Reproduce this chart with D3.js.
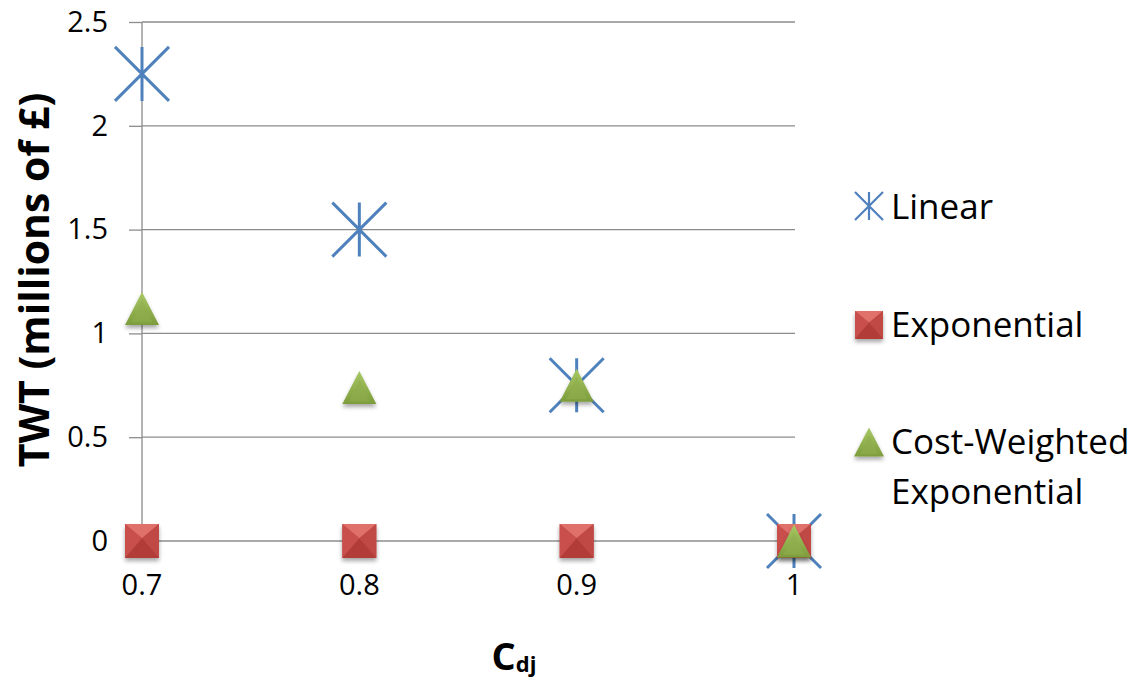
<!DOCTYPE html>
<html><head><meta charset="utf-8">
<script src="https://cdn.jsdelivr.net/npm/d3@7"></script>
<style>body{margin:0;background:#fff}svg{display:block}text{font-family:"Open Sans",Lato,sans-serif}</style>
</head><body>
<svg id="c" width="1143" height="682"></svg>
<script>
const xValues = [0.7, 0.8, 0.9, 1];
const xTickLabels = ["0.7", "0.8", "0.9", "1"];
const yTicks = [0, 0.5, 1, 1.5, 2, 2.5];
const yTickLabels = ["0", "0.5", "1", "1.5", "2", "2.5"];
const linear = [2.25, 1.5, 0.75, 0];
const exponential = [0, 0, 0, 0];
const costWeighted = [1.12, 0.74, 0.75, 0];
const seriesNames = ["Linear", "Exponential", "Cost-Weighted|Exponential"];

const svg = d3.select("#c");
const x = d3.scaleLinear().domain([0.7, 1]).range([142, 794]);
const y = d3.scaleLinear().domain([0, 2.5]).range([541, 22]);

const defs = svg.append("defs");
const sh = defs.append("filter").attr("id","sh").attr("x","-30%").attr("y","-30%").attr("width","160%").attr("height","170%");
sh.append("feGaussianBlur").attr("in","SourceAlpha").attr("stdDeviation",2.2);
sh.append("feOffset").attr("dy",3).attr("result","b");
sh.append("feComponentTransfer").append("feFuncA").attr("type","linear").attr("slope",0.35);
const mg = sh.append("feMerge"); mg.append("feMergeNode"); mg.append("feMergeNode").attr("in","SourceGraphic");
const tg = defs.append("linearGradient").attr("id","tg").attr("x1",0).attr("y1",0).attr("x2",0).attr("y2",1);
tg.append("stop").attr("offset","0").attr("stop-color","#a8c864");
tg.append("stop").attr("offset","1").attr("stop-color","#7d9c3c");

// gridlines
svg.append("g").selectAll("line").data(yTicks).join("line")
  .attr("x1", x(0.7)).attr("x2", 795).attr("y1", d => y(d)).attr("y2", d => y(d))
  .attr("stroke", "#8c8c8c").attr("stroke-width", 1.3);
// y axis
const ax = d3.axisLeft(y).tickValues(yTicks).tickSize(13).tickFormat((d,i)=>yTickLabels[i]).tickPadding(21);
const ag = svg.append("g").attr("transform", `translate(${x(0.7)},0)`).call(ax);
ag.select(".domain").attr("stroke","#8c8c8c").attr("stroke-width",1.3).attr("d",`M0,${y(2.5)}V${y(0)}`);
ag.selectAll(".tick line").attr("stroke","#8c8c8c").attr("stroke-width",1.3);
ag.selectAll(".tick text").attr("font-size",29).attr("fill","#000").attr("font-family","Open Sans");
// x labels
svg.append("g").selectAll("text").data(xValues).join("text")
  .attr("x", d => x(d)).attr("y", 595).attr("text-anchor","middle")
  .attr("font-size",29).text((d,i)=>xTickLabels[i]);

// marker drawers
function star(g, cx, cy, r, sw) {
  g.append("path").attr("d",`M${cx},${cy-r}V${cy+r}M${cx-r},${cy-r}L${cx+r},${cy+r}M${cx-r},${cy+r}L${cx+r},${cy-r}`)
   .attr("stroke","#4f81bd").attr("stroke-width",sw).attr("fill","none");
}
function square(g, cx, cy, s) {
  const h = s/2, gg = g.append("g").attr("filter","url(#sh)");
  const L=cx-h,R=cx+h,T=cy-h,B=cy+h, iy=s*0.08;
  gg.append("rect").attr("x",L).attr("y",T).attr("width",s).attr("height",s).attr("fill","#c0504d");
  gg.append("path").attr("d",`M${L},${T}L${R},${T}L${cx},${cy-iy}Z`).attr("fill","#e0706a");
  gg.append("path").attr("d",`M${L},${T}L${cx},${cy-iy}L${L},${B}Z`).attr("fill","#c8504c");
  gg.append("path").attr("d",`M${R},${T}L${cx},${cy-iy}L${R},${B}Z`).attr("fill","#c04844");
  gg.append("path").attr("d",`M${L},${B}L${cx},${cy-iy}L${R},${B}Z`).attr("fill","#b23c38");
}
function tri(g, cx, cy, w, hgt) {
  const gg = g.append("g").attr("filter","url(#sh)");
  const T=cy-hgt/2,B=cy+hgt/2,L=cx-w/2,R=cx+w/2;
  gg.append("path").attr("d",`M${cx},${T}L${R},${B}L${L},${B}Z`).attr("fill","url(#tg)");
  gg.append("path").attr("d",`M${cx},${T+hgt*0.25}L${cx+w*0.3},${B-hgt*0.08}L${cx-w*0.3},${B-hgt*0.08}Z`).attr("fill","#8fae4c").attr("opacity",0.6);
}

const plot = svg.append("g");
xValues.forEach((v,i)=> star(plot, x(v), y(linear[i]), 27, 3));
xValues.forEach((v,i)=> square(plot, x(v), y(exponential[i]), 34));
xValues.forEach((v,i)=> tri(plot, x(v), y(costWeighted[i]), 34, 33));

// legend
const lg = svg.append("g");
star(lg, 869, 206, 14, 2.2);
square(lg, 869, 325, 28);
tri(lg, 869, 442, 30, 29);
const lt = [["Linear",207],["Exponential",325],["Cost-Weighted",442],["Exponential",492]];
lg.selectAll("text").data(lt).join("text").attr("x",891).attr("y",d=>d[1]).attr("dy","0.35em")
  .attr("font-size",35).text(d=>d[0]);

// axis titles
svg.append("text").attr("transform","translate(35,280) rotate(-90)").attr("text-anchor","middle")
  .attr("dy","0.35em").attr("font-size",41).attr("font-weight","bold").attr("font-family","Lato").text("TWT (millions of £)");
const xt = svg.append("text").attr("x",514).attr("y",670).attr("text-anchor","middle").attr("font-weight","bold").attr("font-family","Lato");
xt.append("tspan").attr("font-size",38).text("C");
xt.append("tspan").attr("font-size",22).attr("dy",2).text("dj");
</script></body></html>
